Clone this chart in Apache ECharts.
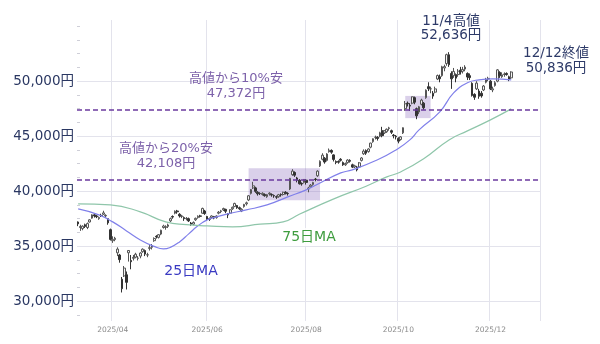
<!DOCTYPE html>
<html><head><meta charset="utf-8">
<script src="https://cdn.jsdelivr.net/npm/echarts@6/dist/echarts.min.js"></script>
<style>html,body{margin:0;padding:0;background:#fff}#c{width:600px;height:344px}</style>
</head><body><div id="c"></div>
<script>
// trading days (Tokyo), plus empty days after the last close
const dates = [
'2025/03/10','2025/03/11','2025/03/12','2025/03/13','2025/03/14','2025/03/17','2025/03/18','2025/03/19','2025/03/21','2025/03/24','2025/03/25','2025/03/26','2025/03/27','2025/03/28','2025/03/31',
'2025/04/01','2025/04/02','2025/04/03','2025/04/04','2025/04/07','2025/04/08','2025/04/09','2025/04/10','2025/04/11','2025/04/14','2025/04/15','2025/04/16','2025/04/17','2025/04/18','2025/04/21','2025/04/22','2025/04/23','2025/04/24','2025/04/25','2025/04/28','2025/04/30',
'2025/05/01','2025/05/02','2025/05/07','2025/05/08','2025/05/09','2025/05/12','2025/05/13','2025/05/14','2025/05/15','2025/05/16','2025/05/19','2025/05/20','2025/05/21','2025/05/22','2025/05/23','2025/05/26','2025/05/27','2025/05/28','2025/05/29','2025/05/30',
'2025/06/02','2025/06/03','2025/06/04','2025/06/05','2025/06/06','2025/06/09','2025/06/10','2025/06/11','2025/06/12','2025/06/13','2025/06/16','2025/06/17','2025/06/18','2025/06/19','2025/06/20','2025/06/23','2025/06/24','2025/06/25','2025/06/26','2025/06/27','2025/06/30',
'2025/07/01','2025/07/02','2025/07/03','2025/07/04','2025/07/07','2025/07/08','2025/07/09','2025/07/10','2025/07/11','2025/07/14','2025/07/15','2025/07/16','2025/07/17','2025/07/18','2025/07/22','2025/07/23','2025/07/24','2025/07/25','2025/07/28','2025/07/29','2025/07/30','2025/07/31',
'2025/08/01','2025/08/04','2025/08/05','2025/08/06','2025/08/07','2025/08/08','2025/08/12','2025/08/13','2025/08/14','2025/08/15','2025/08/18','2025/08/19','2025/08/20','2025/08/21','2025/08/22','2025/08/25','2025/08/26','2025/08/27','2025/08/28','2025/08/29',
'2025/09/01','2025/09/02','2025/09/03','2025/09/04','2025/09/05','2025/09/08','2025/09/09','2025/09/10','2025/09/11','2025/09/12','2025/09/16','2025/09/17','2025/09/18','2025/09/19','2025/09/22','2025/09/24','2025/09/25','2025/09/26','2025/09/29','2025/09/30',
'2025/10/01','2025/10/02','2025/10/03','2025/10/06','2025/10/07','2025/10/08','2025/10/09','2025/10/10','2025/10/14','2025/10/15','2025/10/16','2025/10/17','2025/10/20','2025/10/21','2025/10/22','2025/10/23','2025/10/24','2025/10/27','2025/10/28','2025/10/29','2025/10/30','2025/10/31',
'2025/11/04','2025/11/05','2025/11/06','2025/11/07','2025/11/10','2025/11/11','2025/11/12','2025/11/13','2025/11/14','2025/11/17','2025/11/18','2025/11/19','2025/11/20','2025/11/21','2025/11/25','2025/11/26','2025/11/27','2025/11/28',
'2025/12/01','2025/12/02','2025/12/03','2025/12/04','2025/12/05','2025/12/08','2025/12/09','2025/12/10','2025/12/11','2025/12/12',
'2025/12/15','2025/12/16','2025/12/17','2025/12/18','2025/12/19','2025/12/22','2025/12/23','2025/12/24','2025/12/25','2025/12/26','2025/12/29','2025/12/30'
];
// [open, close, low, high]
const ohlc = [
[37200,37028,36820,37250],[36700,36793,36390,36950],[36600,36819,36450,36900],[36950,36790,36650,37050],[36700,37053,36550,37150],
[37200,37397,37150,37450],[37550,37845,37500,37900],[37850,37751,37600,37950],[37750,37677,37550,37850],[37500,37608,37400,37700],
[37800,37780,37650,37950],[37900,38027,37850,38220],[37750,37799,37600,37900],[37500,37120,36950,37550],[36500,35617,35520,36600],
[35500,35624,35300,35900],[35600,35725,35450,35850],[34400,34736,34100,34900],[34200,33781,33500,34300],[32000,31136,30792,32200],
[32300,33012,32200,33200],[32400,31714,31064,32700],[34400,34609,33600,34640],[33700,33586,32900,34200],[33900,33982,33700,34200],
[34000,34267,33900,34400],[33900,33920,33700,34100],[34100,34377,33900,34450],[34500,34730,34400,34800],[34600,34280,34100,34700],
[34200,34220,34000,34400],[34800,34868,34600,35100],[34900,35039,34700,35200],[35500,35705,35400,35800],[35900,35840,35700,36000],
[35800,36045,35700,36100],
[36100,36452,36000,36500],[36700,36831,36600,36950],[36700,36780,36500,36900],[36800,36929,36650,37050],[37300,37503,37200,37600],
[37700,37644,37500,37800],[38000,38183,37900,38250],[38200,38128,37950,38300],[37900,37755,37600,38000],[37700,37753,37550,37850],
[37600,37498,37300,37700],[37500,37529,37350,37650],[37500,37299,37200,37600],[37100,36985,36850,37200],[37000,37160,36900,37250],
[37400,37531,37300,37600],[37600,37724,37500,37800],[37750,37722,37600,37850],[38000,38432,37950,38500],[38200,37965,37850,38300],
[37700,37470,37300,37750],[37500,37446,37300,37600],[37600,37747,37500,37800],[37700,37554,37450,37750],[37600,37741,37500,37800],
[38000,38088,37900,38200],[38150,38211,38000,38300],[38300,38421,38200,38500],[38350,38173,38000,38400],[37900,37834,37550,38000],
[38000,38311,37950,38350],[38400,38536,38300,38600],[38600,38885,38550,38950],[38700,38488,38400,38750],[38500,38403,38300,38600],
[38200,38354,38100,38450],[38600,38790,38500,38850],[38850,38942,38700,39050],[39200,39584,39100,39650],[39800,40150,39700,40200],
[40300,40487,40200,40850],
[40300,39986,39850,40400],[39900,39762,39600,40000],[39800,39785,39650,39900],[39700,39810,39600,39900],[39700,39587,39500,39800],
[39500,39688,39400,39750],[39750,39821,39600,39900],[39700,39646,39500,39800],[39600,39569,39400,39700],[39500,39459,39300,39600],
[39500,39678,39400,39750],[39700,39663,39500,39800],[39700,39901,39600,39950],[39900,39819,39700,40000],[39800,39774,39600,39900],
[40200,41171,40100,41200],[41500,41826,41400,42000],[41700,41456,41300,41800],[41200,40998,40800,41300],[41000,40674,40600,41100],
[40700,40654,40500,40800],[40800,41069,40700,41100],
[41000,40799,40600,41100],[40200,40290,39900,40400],[40400,40549,40300,40650],[40600,40794,40500,40850],[41100,41059,40900,41200],
[41400,41820,41300,41900],[42300,42718,42200,42800],[42900,43274,42800,43450],[43000,42649,42500,43100],[42800,43378,42700,43450],
[43600,43714,43500,43880],[43700,43546,43400,43800],[43300,42888,42700,43350],[42700,42610,42450,42800],[42700,42633,42500,42800],
[42900,42807,42700,43000],[42600,42394,42300,42700],[42400,42520,42300,42600],[42600,42829,42500,42900],[42800,42718,42600,42900],
[42400,42188,42100,42500],[42200,42310,42100,42400],[42200,41938,41800,42300],[42200,42580,42100,42650],[42800,43018,42700,43100],
[43400,43643,43300,43800],[43700,43459,43300,43800],[43600,43837,43500,43900],[44000,44372,43900,44400],[44500,44768,44400,44800],
[44900,44902,44700,45050],[44900,44790,44600,45000],[45000,45303,44900,45400],[45500,45045,44900,45850],[45300,45493,45200,45550],
[45400,45630,45300,45700],[45700,45754,45500,45850],[45500,45354,45200,45600],[45100,45043,44800,45200],[45000,44932,44700,45100],
[44800,44550,44350,44900],[44700,44936,44600,45000],[45300,45769,45200,45800],[47500,47944,47300,48200],[48000,47950,47700,48150],
[47800,47734,47300,48000],[48000,48580,47900,48600],[48500,48088,47900,48600],[47500,46847,46544,47600],[47200,47672,47000,47750],
[47900,48277,47800,48400],[48000,47582,47400,48100],[48500,49185,48400,49250],[49500,49316,49100,49900],[49300,49307,48900,49500],
[48900,48641,48400,49100],[49000,49299,48900,49500],[50200,50512,50100,50600],[50400,50219,49900,50600],[50500,51307,50400,51400],
[51200,51325,50900,51500],[51600,52411,51400,52500],
[52400,51497,51300,52636],[50700,50212,49300,50900],[50500,50883,50300,51200],[50600,50276,49900,50700],[50600,50911,50400,51100],
[51000,50842,50600,51300],[50900,51063,50700,51300],[51100,51281,50900,51450],[50700,50376,50100,50800],[50500,50323,50100,50700],
[49800,48702,48600,49900],[48800,48537,48300,48900],[49300,49823,49200,50000],[49100,48625,48400,49300],[48900,48659,48500,49100],
[49200,49559,49100,49650],[49900,50167,49800,50300],[50200,50253,50000,50400],
[50000,49303,49200,50100],[49200,49303,49000,49500],[49600,49864,49500,50000],[50000,51028,49900,51100],[50800,50491,50300,50900],
[50400,50581,50300,50800],[50600,50655,50400,50800],[50700,50602,50500,50800],[50400,50148,50000,50500],[50300,50836,50200,50900]
];
const ma25 = [
['2025/03/10',38390],['2025/03/24',37850],['2025/04/01',37210],['2025/04/09',36390],['2025/04/17',35570],['2025/04/25',34980],
['2025/05/02',34750],['2025/05/09',34890],['2025/05/15',35390],['2025/05/21',36120],['2025/05/27',36850],['2025/06/02',37390],
['2025/06/06',37660],['2025/06/13',37940],['2025/06/25',38300],['2025/07/08',38750],['2025/07/22',39480],['2025/08/01',40120],
['2025/08/12',40750],['2025/08/25',41660],['2025/09/01',41940],['2025/09/17',42850],['2025/09/30',43750],['2025/10/08',44660],
['2025/10/15',45570],['2025/10/28',47210],['2025/11/06',48930],['2025/11/14',49850],['2025/11/21',50120],['2025/12/02',50210],
['2025/12/12',50120]
];
const ma75 = [
['2025/03/10',38850],['2025/03/31',38750],['2025/04/17',38120],['2025/05/07',37210],['2025/05/20',36960],['2025/06/02',36850],
['2025/06/17',36760],['2025/07/03',37000],['2025/07/17',37210],['2025/07/29',37900],['2025/08/20',39300],['2025/09/09',40450],
['2025/09/24',41300],['2025/10/02',41750],['2025/10/17',42950],['2025/11/04',44660],['2025/11/14',45480],['2025/12/01',46480],
['2025/12/12',47480]
];
const tickDates = ['2025/04/01','2025/06/02','2025/08/01','2025/10/01','2025/12/01'];
const yTicks = [30000,35000,40000,45000,50000];
const yMinorTicks = [28750,31250,32500,33750,36250,37500,38750,41250,42500,43750,46250,47500,48750,51250,52500,53750,55000];
const levelLines = [47372, 41000];
const boxes = [
  [['2025/06/26',39180],['2025/08/12',42090]],
  [['2025/10/06',46640],['2025/10/22',48660]]
];
const notes = [
  {lines:['高値から10%安','47,372円'], x:236, y:[78.5,94], color:'#7d62aa', size:13},
  {lines:['高値から20%安','42,108円'], x:166, y:[148.5,164], color:'#7d62aa', size:13},
  {lines:['11/4高値','52,636円'], x:451, y:[21,35.5], color:'#2d3a68', size:13.5},
  {lines:['12/12終値','50,836円'], x:556, y:[53,68.5], color:'#2d3a68', size:13.5}
];

const FONT = '"DejaVu Sans", "Noto Sans CJK JP", sans-serif';
const showTick = (idx, val) => tickDates.indexOf(val) >= 0;
const fmt = v => String(v).replace(/\B(?=(\d{3})+(?!\d))/g, ',') + '円';

const graphics = [];
notes.forEach(n => n.lines.forEach((t, k) => graphics.push({
  type:'text', x:n.x, y:n.y[k], silent:true, z:100,
  style:{text:t, fill:n.color, font:n.size + 'px ' + FONT, textAlign:'center', textVerticalAlign:'middle'}
})));
graphics.push({type:'text', x:191, y:271.5, z:100, style:{text:'25日MA', fill:'#3a3ac2', font:'14px ' + FONT, textAlign:'center', textVerticalAlign:'middle'}});
graphics.push({type:'text', x:309, y:237, z:100, style:{text:'75日MA', fill:'#3e9c3e', font:'14px ' + FONT, textAlign:'center', textVerticalAlign:'middle',
  backgroundColor:'rgba(255,255,255,0.85)', padding:[2,4]}});

const chart = echarts.init(document.getElementById('c'), null, {renderer:'canvas'});
chart.setOption({
  animation:false,
  backgroundColor:'#ffffff',
  textStyle:{fontFamily:FONT},
  grid:{left:77, right:60, top:20, bottom:23},
  xAxis:{
    type:'category', data:dates, boundaryGap:true,
    axisLine:{show:false}, axisTick:{show:false},
    axisLabel:{interval:showTick, formatter:v => v.slice(0,7), color:'#8a8a8a', fontSize:7.5, margin:5, fontFamily:FONT},
    splitLine:{show:true, interval:showTick, lineStyle:{color:'#e3e3ec', width:1}}
  },
  yAxis:[{
    type:'value', min:28200, max:55560, position:'left',
    axisLine:{show:false},
    axisTick:{show:false, customValues:yTicks},
    axisLabel:{customValues:yTicks, formatter:fmt, color:'#2a3762', fontSize:13.5, margin:3, fontFamily:FONT},
    splitLine:{show:true, lineStyle:{color:'#e3e3ec', width:1}}
  },{
    type:'value', min:28200, max:55560, position:'left',
    axisLine:{show:false}, axisLabel:{show:false}, splitLine:{show:false},
    axisTick:{show:true, inside:true, length:3, customValues:yMinorTicks, lineStyle:{color:'#cfcfd8'}}
  }],
  series:[{
    type:'candlestick', data:ohlc, barWidth:'95%',
    itemStyle:{color:'#f4f4f4', color0:'#333333', borderColor:'#555555', borderColor0:'#333333', borderWidth:1},
    markArea:{silent:true, itemStyle:{color:'rgba(140,110,190,0.32)'},
      data:boxes.map(b => [{xAxis:b[0][0], yAxis:b[0][1]}, {xAxis:b[1][0], yAxis:b[1][1]}])},
    markLine:{silent:true, symbol:'none', label:{show:false},
      lineStyle:{color:'#6b3a9e', type:[5,3], width:1.6},
      data:levelLines.map(v => ({yAxis:v}))}
  },{
    type:'line', data:ma25, smooth:true, showSymbol:false, z:3,
    lineStyle:{color:'#8080ea', width:1.2}
  },{
    type:'line', data:ma75, smooth:true, showSymbol:false, z:3,
    lineStyle:{color:'#8fc6aa', width:1.2}
  }],
  graphic:graphics
});
</script></body></html>
